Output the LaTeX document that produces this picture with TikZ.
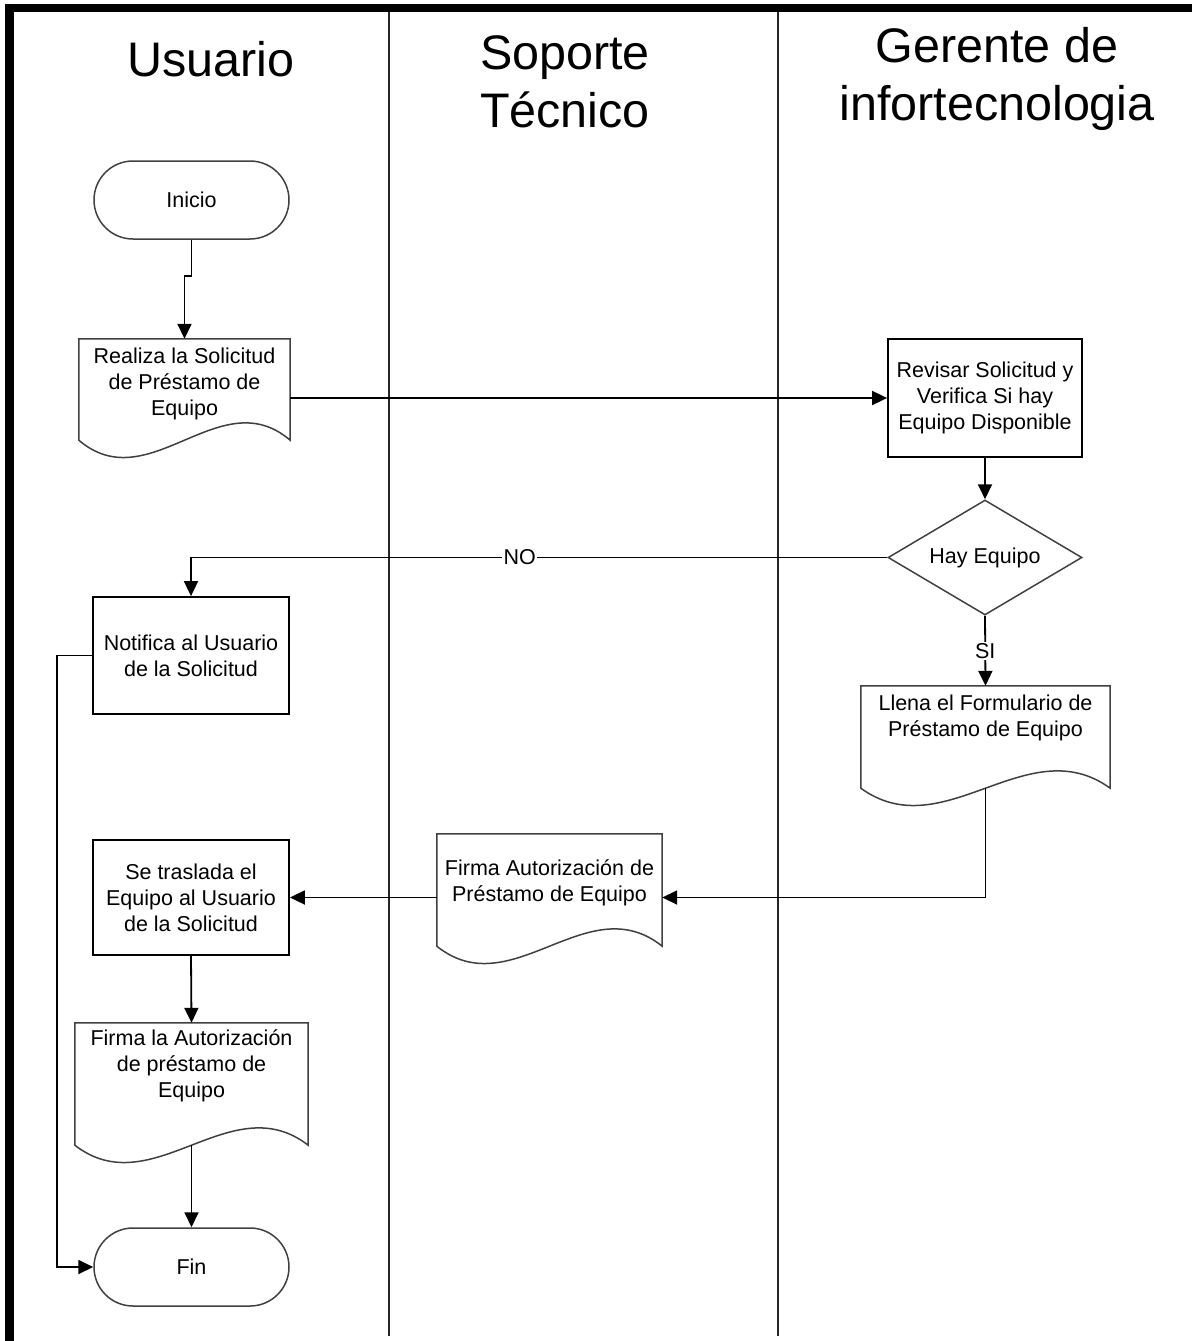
\documentclass[tikz,border=0pt]{standalone}
\usepackage{fontspec}
\setmainfont{Liberation Sans}
\usetikzlibrary{shapes.geometric,arrows.meta,calc}
\newcommand{\docoutline}[1]{%
  \draw[docline] (#1.north west) -- (#1.south west)
    .. controls ($(#1.south west)!0.333!(#1.south east)+(0,60)$) and ($(#1.south west)!0.667!(#1.south east)+(0,-60)$) ..
    (#1.south east) -- (#1.north east) -- cycle;}
\begin{document}
\begin{tikzpicture}[x=1pt,y=-1pt,
 txt/.style={font=\fontsize{21.5}{26}\selectfont, align=center},
 box/.style={txt, draw=black, line width=1.8pt, inner sep=0pt},
 term/.style={txt, draw=black!75, line width=1.5pt, rounded corners=39pt, minimum width=195pt, minimum height=78pt, inner sep=0pt},
 doc/.style={draw=none, inner sep=0pt},
 docline/.style={draw=black!75, line width=1.5pt},
 doctext/.style={txt},
 dia/.style={txt, diamond, draw=black!75, line width=1.5pt, aspect=1.69, minimum width=194pt, minimum height=115pt, inner sep=0pt},
 flow/.style={draw=black, line width=1.8pt, -{Triangle[length=15pt,width=14pt]}},
 lane/.style={draw=black!85, line width=2pt},
 title/.style={font=\fontsize{48.5}{58}\selectfont, align=center, anchor=base},
 cond/.style={font=\fontsize{21.5}{26}\selectfont, fill=white, inner sep=1.5pt}
]
\useasboundingbox (0,0) rectangle (1192,1341);
% frame and lanes
\draw[line width=8pt] (5,8) -- (1192,8);
\draw[line width=9pt] (9.5,4) -- (9.5,1341);
\draw[lane] (389,12) -- (389,1336);
\draw[lane] (778,12) -- (778,1336);
% titles (base anchor = baseline of last line)
\node[title] (tusuario) at (211,76) {Usuario};
\node[title] (tsoporte) at (565,127) {Soporte\\Técnico};
\node[title] (tgerente) at (997,120) {Gerente de\\infortecnologia};
% nodes
\node[term] (inicio) at (191.5,200) {Inicio};
\node[doc, minimum width=211pt, minimum height=101pt,
  label={[doctext, yshift=5.5pt]center:{Realiza la Solicitud\\de Préstamo de\\Equipo}}] (realiza) at (184.5,389.5) {};
\node[box, minimum width=194pt, minimum height=118pt] (revisar) at (985,398) {Revisar Solicitud y\\Verifica Si hay\\Equipo Disponible};
\node[dia] (hay) at (985,557.5) {Hay Equipo};
\node[box, minimum width=196pt, minimum height=117pt] (notifica) at (191,655.5) {Notifica al Usuario\\de la Solicitud};
\node[doc, minimum width=249pt, minimum height=102pt,
  label={[doctext, yshift=19.5pt]center:{Llena el Formulario de\\Préstamo de Equipo}}] (llena) at (985.5,737) {};
\node[doc, minimum width=225pt, minimum height=112pt,
  label={[doctext, yshift=7pt]center:{Firma Autorización de\\Préstamo de Equipo}}] (firmaaut) at (549.5,890) {};
\node[box, minimum width=196pt, minimum height=115pt] (traslada) at (191,897.5) {Se traslada el\\Equipo al Usuario\\de la Solicitud};
\node[doc, minimum width=233pt, minimum height=122pt,
  label={[doctext, yshift=18pt]center:{Firma la Autorización\\de préstamo de\\Equipo}}] (firmala) at (191.5,1084) {};
\node[term] (fin) at (191.5,1267) {Fin};
% document outlines
\docoutline{realiza}
\docoutline{llena}
\docoutline{firmaaut}
\docoutline{firmala}
% connectors
\draw[flow] (inicio.south) -- ++(0,36) -| (realiza.north);
\draw[flow] (realiza.east |- revisar.west) -- (revisar.west);
\draw[flow] (revisar.south) -- (hay.north);
\draw[flow] (hay.west) -| node[cond, pos=0.264] {NO} (notifica.north);
\draw[flow] (hay.south) -- node[cond, pos=0.5] {SI} (llena.north);
\draw[flow] (notifica.west) -- ++(-35,0) |- (fin.west);
\draw[flow] (llena.south) |- (firmaaut.east |- traslada.east);
\draw[flow] (firmaaut.west |- traslada.east) -- (traslada.east);
\draw[flow] (traslada.south) -- (firmala.north);
\draw[flow] (firmala.south) -- (fin.north);
\end{tikzpicture}
\end{document}
